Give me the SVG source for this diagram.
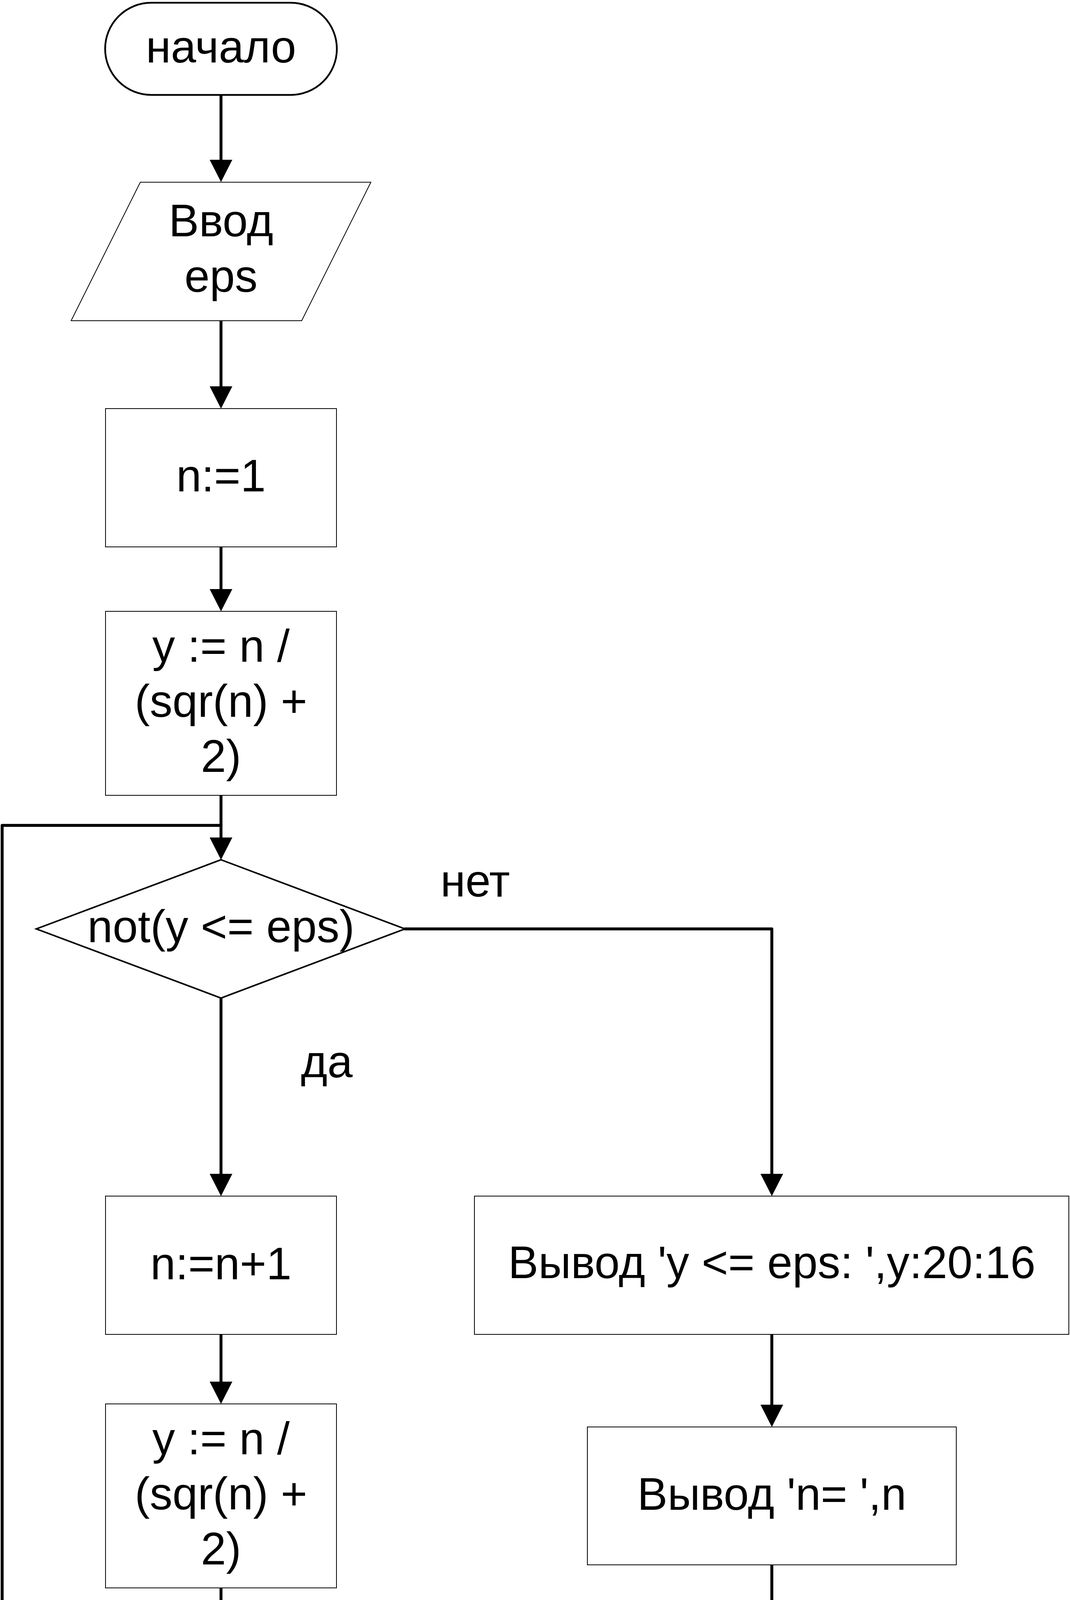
<svg xmlns="http://www.w3.org/2000/svg" width="2738" height="4725" viewBox="0 0 2738 4725">
<style>
.bg{fill:#ffffff}
.term{fill:#ffffff;stroke:#000000;stroke-width:4.5}
.box{fill:#ffffff;stroke:#000000;stroke-width:2}
.dec{fill:#ffffff;stroke:#000000;stroke-width:4;stroke-linejoin:miter}
.lbl{font-family:"Liberation Sans",Arial,sans-serif;font-size:116px;fill:#000000}
.c{text-anchor:middle}
.conn{fill:none;stroke:#000000;stroke-width:7.5;stroke-linejoin:round;stroke-linecap:round}
</style>
<defs>
<marker id="arr" viewBox="0 0 57 58" markerWidth="57" markerHeight="58" refX="0" refY="29" orient="auto" markerUnits="userSpaceOnUse">
<path d="M0,0 L57,29 L0,58 Z" fill="#000000"/>
</marker>
</defs>
<rect class="bg" x="0" y="0" width="2738" height="4725"/>

<g id="connectors">
<path class="conn" d="M565.5,243 L565.5,409" marker-end="url(#arr)"/>
<path class="conn" d="M565.5,821 L565.5,989" marker-end="url(#arr)"/>
<path class="conn" d="M565.5,1400 L565.5,1508" marker-end="url(#arr)"/>
<path class="conn" d="M565.5,2036 L565.5,2144" marker-end="url(#arr)"/>
<path class="conn" d="M565.5,2555 L565.5,3005" marker-end="url(#arr)"/>
<path class="conn" d="M565.5,3416 L565.5,3537" marker-end="url(#arr)"/>
<path class="conn" d="M565.5,4065 L565.5,4153 L5.5,4153 L5.5,2113 L565.5,2113"/>
<path class="conn" d="M1036,2378 L1975,2378 L1975,3005" marker-end="url(#arr)"/>
<path class="conn" d="M1975,3416 L1975,3596" marker-end="url(#arr)"/>
<path class="conn" d="M1975,4006 L1975,4425" marker-end="url(#arr)"/>
</g>

<g id="start">
<rect class="term" x="269" y="7" width="593" height="236" rx="118" ry="118"/>
<text class="lbl c" x="565.5" y="160">начало</text>
</g>

<g id="input">
<polygon class="box" points="359,466.5 949,466.5 772,821 182,821"/>
<text class="lbl c" x="565.5" y="605">Ввод</text>
<text class="lbl c" x="565.5" y="747">eps</text>
</g>

<g id="init_n">
<rect class="box" x="270" y="1046" width="591" height="354"/>
<text class="lbl c" x="565.5" y="1258">n:=1</text>
</g>

<g id="calc_y1">
<rect class="box" x="270" y="1565" width="591" height="471"/>
<text class="lbl c" x="565.5" y="1694">y := n /</text>
<text class="lbl c" x="565.5" y="1835">(sqr(n) +</text>
<text class="lbl c" x="565.5" y="1976">2)</text>
</g>

<g id="decision">
<polygon class="dec" points="565.5,2201 1036,2378 565.5,2555 93,2378"/>
<text class="lbl c" x="565.5" y="2412">not(y &lt;= eps)</text>
</g>

<g id="label_no">
<text class="lbl" x="1127" y="2295">нет</text>
</g>

<g id="label_yes">
<text class="lbl" x="770" y="2758">да</text>
</g>

<g id="inc_n">
<rect class="box" x="270" y="3062" width="591" height="354"/>
<text class="lbl c" x="565.5" y="3275">n:=n+1</text>
</g>

<g id="calc_y2">
<rect class="box" x="270" y="3594" width="591" height="471"/>
<text class="lbl c" x="565.5" y="3723">y := n /</text>
<text class="lbl c" x="565.5" y="3864">(sqr(n) +</text>
<text class="lbl c" x="565.5" y="4005">2)</text>
</g>

<g id="out_y">
<rect class="box" x="1214" y="3062" width="1521" height="354"/>
<text class="lbl c" x="1975" y="3272">Вывод 'y &lt;= eps: ',y:20:16</text>
</g>

<g id="out_n">
<rect class="box" x="1503" y="3653" width="944" height="353"/>
<text class="lbl c" x="1975" y="3865">Вывод 'n= ',n</text>
</g>

<g id="end">
<rect class="term" x="1679" y="4482" width="592" height="236" rx="118" ry="118"/>
<text class="lbl c" x="1975" y="4635">конец</text>
</g>
</svg>
